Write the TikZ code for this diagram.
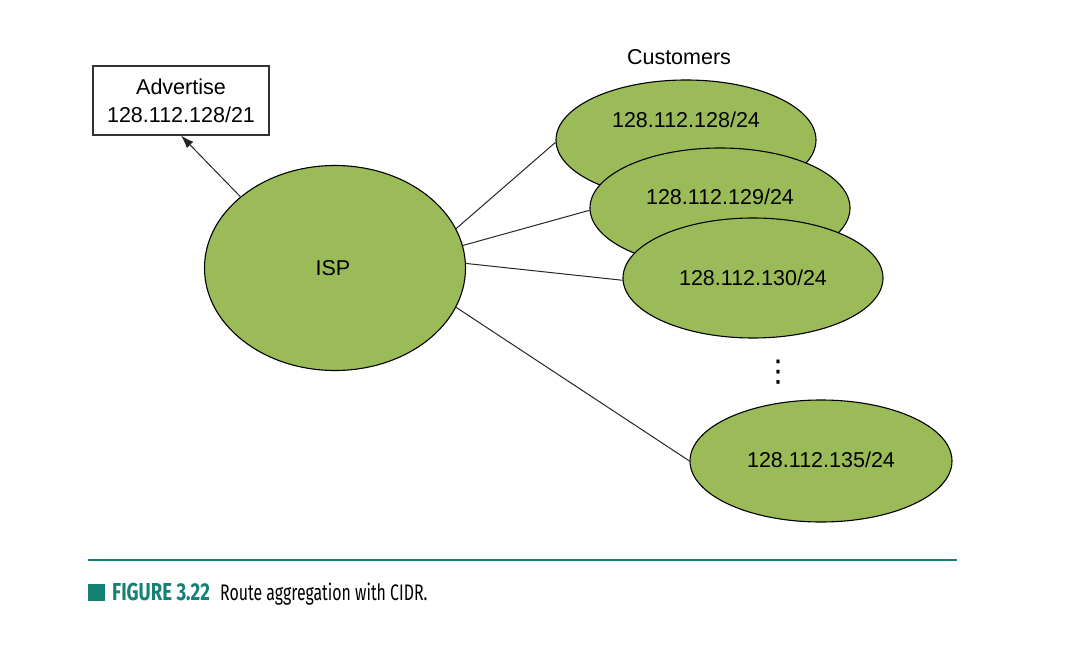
\documentclass[tikz,border=0pt]{standalone}
\usepackage{fontspec}
\setmainfont{Liberation Sans}
\newfontfamily\capfont[FakeStretch=0.705]{Fira Sans}
\newfontfamily\capbold[FakeStretch=0.76]{Fira Sans}
\newfontfamily\symfont{DejaVu Sans}
\usetikzlibrary{shapes.geometric,arrows.meta}
\definecolor{leaf}{HTML}{9BBB59}
\definecolor{teal}{HTML}{158074}
\begin{document}
\begin{tikzpicture}[x=1pt,y=-1pt,
  netnode/.style={ellipse,draw=black,line width=1.1pt,fill=leaf,inner sep=0pt},
  cust/.style={netnode,minimum width=260pt,minimum height=120pt},
  lbl/.style={font=\fontsize{21.5}{26}\selectfont,inner sep=0pt},
  link/.style={draw=black!85,line width=1pt},
  advbox/.style={draw=black!80,line width=1.1pt,fill=white,minimum width=176pt,minimum height=69pt,inner sep=0pt,align=center,font=\fontsize{21.5}{28}\selectfont}]
\useasboundingbox (0,0) rectangle (1076,650);
% Customers
\node[lbl] (custlbl) at (679,57) {Customers};
\node[cust] (c1) at (686,140) {};
\node[lbl] (c1t) at (686,120) {128.112.128/24};
\node[cust] (c2) at (720,208) {};
\node[lbl] (c2t) at (720,197) {128.112.129/24};
\node[cust] (c3) at (753,278) {};
\node[lbl] (c3t) at (753,278) {128.112.130/24};
\node[cust,minimum width=262pt,minimum height=122pt] (c4) at (821,461) {};
\node[lbl] (c4t) at (821,460) {128.112.135/24};
\node[inner sep=0pt,font=\symfont\fontsize{30}{30}\selectfont] (dots) at (778,372) {⋮};
% ISP
\node[netnode,minimum width=261pt,minimum height=205pt] (isp) at (335,268) {};
\node[lbl] (ispt) at (333,268) {ISP};
% Advertise
\node[advbox] (adv) at (181,100.5) {Advertise\\128.112.128/21};
% links
\draw[link] (isp.18) -- (c1.181);
\draw[link] (isp.10) -- (c2.181);
\draw[link] (isp.2) -- (c3.181);
\draw[link] (isp.-18) -- (c4.west);
\draw[link,-{Latex[length=13pt,width=9pt]}] (isp.143) -- (adv.south);
% caption
\draw[teal,line width=1.2pt] (88,560) coordinate (rulel) -- (957,560) coordinate (ruler);
\node[fill=teal,minimum size=17pt,inner sep=0pt] (sq) at (96.5,592.5) {};
\node[anchor=base west,inner sep=0pt,text=teal,font=\capbold\bfseries\fontsize{24.5}{26}\selectfont] (fig) at (112,600) {FIGURE 3.22};
\node[anchor=base west,inner sep=0pt,font=\capfont\fontsize{22.5}{26}\selectfont] (capt) at (220,600) {Route aggregation with CIDR.};
\end{tikzpicture}
\end{document}
